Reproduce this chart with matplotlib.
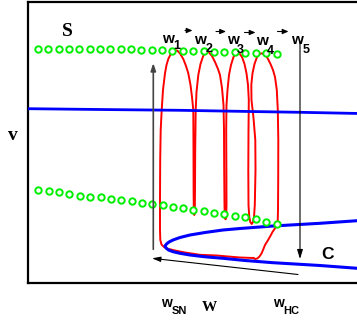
import matplotlib
matplotlib.use('Agg')
import matplotlib.pyplot as plt

# --- data (w to the right, v measured downward as drawn) ---
# upper and lower dotted branches S
s_up_w = [38, 48.3, 58.7, 69, 79.3, 89.7, 100, 110.3, 120.7, 131, 141.3, 151.7,
          162, 172.3, 183, 193, 204, 214, 224, 235, 245, 256, 266, 277]
s_up_v = [49.3, 49.3, 49.3, 49.3, 49.3, 49.3, 49.3, 49.3, 49.3, 49.3, 49.5, 50,
          50, 50.7, 50.7, 51, 51.3, 51.7, 52, 52.3, 52.7, 53, 53, 53.7]
s_lo_w = [38, 48.7, 59, 69, 80, 90, 100.5, 111, 121, 131.5, 142, 152,
          163, 173, 183, 193.3, 204, 214, 224.3, 235, 245.3, 256, 266.3, 276.7]
s_lo_v = [189.7, 191, 192.3, 194.3, 195.8, 196.6, 197.3, 198.7, 200, 201.3, 202.7, 204.3,
          205.3, 206.7, 208.3, 210, 211.3, 212.7, 214.3, 215.7, 217.3, 219.3, 221.7, 223.7]

# middle branch (blue, straight)
mid_w = [28, 100, 180, 250, 300, 360]
mid_v = [108.7, 109.5, 110.3, 111.5, 112.3, 113.5]

# C branch (blue parabola)
c_w = [360, 320, 273, 240, 223, 205, 190, 180, 173, 169, 166.5, 165, 166, 168.5,
       173, 180, 190, 205, 223, 245, 273, 320, 360]
c_v = [220.5, 223.3, 226, 228.5, 230, 232.5, 235, 237.5, 240, 242, 244, 246, 248, 250,
       251.7, 253.3, 255, 256.8, 258.3, 260.5, 262.7, 265.5, 268.5]

# bursting trajectory (red)
traj_w = [253.3, 240, 228, 216.7, 200, 185, 175, 168, 164, 161.5, 160.3, 160,
          160, 160.2, 160.7, 161.7, 163, 165, 166.5, 168.3, 171, 173, 175, 177.5, 180,
          183.3, 186, 188.3, 190.5, 192, 193.3, 193.5, 193.6, 193.8, 194.3, 194.8, 195,
          195.2, 195.7, 196.5, 198.3, 200.5, 203, 205, 206.7, 209, 212, 215, 218, 220,
          222, 223.5, 224, 224.2, 224.5, 224.8, 225.5, 226.2, 226.5, 226.4, 226.2, 226.5,
          227.5, 229, 231, 233.5, 235.5, 237.3, 239.5, 242, 244.5, 246.5, 248, 248.8,
          248.5, 248.3, 248.5, 249.3, 250.3, 251.7, 253, 254, 254.8, 255.5, 255.3, 253.5,
          251.5, 251.3, 252.5, 254.5, 257, 259.5, 261.7, 264.5, 267.5, 270.5, 273, 275,
          276.8, 277.8, 278.3, 278.2, 278, 277.7, 276.5, 275, 272.5, 270, 267.5, 265,
          263, 261.5, 259.5, 257.3, 255, 253.3]
traj_v = [258, 257.5, 256.5, 255.5, 254.8, 252.5, 250.5, 248.8, 247, 244.5, 240, 230,
          200, 160, 130, 110, 90, 73.3, 65, 59, 53.5, 50.8, 50, 50.8, 53.5,
          59, 66, 73.3, 85, 97, 110, 150, 190, 211, 215, 211, 190,
          150, 110, 92, 75, 64, 56.5, 53, 51.7, 52.5, 56, 62, 69, 75,
          88, 105, 130, 170, 205, 216, 219.3, 216, 205, 170, 130, 105,
          90, 75, 65, 57, 53.5, 52.7, 53.5, 57, 64, 73.3, 85, 100,
          130, 170, 205, 217, 222, 224, 222, 217, 205, 170, 140, 118,
          100, 85, 73.3, 64, 57, 54, 53.3, 54.5, 58, 64, 70, 77,
          90, 110, 140, 180, 210, 222, 226, 228.3, 232, 236.7, 241, 245,
          250, 253.5, 256.5, 258.5, 259, 258]

fig = plt.figure(figsize=(3.57, 3.24), dpi=100)
ax = fig.add_axes([28 / 357, 41 / 324, 329 / 357, 281 / 324])
ax.set_xlim(28, 357)
ax.set_ylim(283, 2)
ax.set_xticks([])
ax.set_yticks([])
ax.spines['right'].set_visible(False)
for s in ['left', 'top', 'bottom']:
    ax.spines[s].set_linewidth(1.6)

ax.plot(traj_w, traj_v, color='red', lw=1.4, zorder=2)
ax.plot(mid_w, mid_v, color='#0000ff', lw=2.0, zorder=3, clip_on=True)
ax.plot(c_w, c_v, color='#0000ff', lw=2.2, zorder=3)
mk = dict(ls='none', marker='o', ms=4.6, mfc='white', mec='#00ee00', mew=1.4, zorder=4)
ax.plot(s_up_w, s_up_v, **mk)
ax.plot(s_lo_w, s_lo_v, **mk)

# arrows
def arrow(x0, y0, x1, y1, col='black', lw=0.8, hl=0.5, hw=0.18):
    ax.annotate('', xy=(x1, y1), xytext=(x0, y0),
                arrowprops=dict(arrowstyle='-|>,head_length=%g,head_width=%g' % (hl, hw),
                                color=col, lw=lw, shrinkA=0, shrinkB=0), zorder=5)

arrow(153.3, 249.3, 153.3, 63, col='#444444', lw=1.2, hl=0.45, hw=0.15)
arrow(300, 41, 300, 259, hl=0.55, hw=0.17)
arrow(298, 274.5, 152, 258.3, hl=0.5, hw=0.15)
for x0, x1, y in [(185, 192.5, 30.5), (216, 226, 31.5), (244.5, 255.5, 32.5), (277.5, 288.5, 31.5)]:
    arrow(x0, y, x1, y, hl=0.35, hw=0.15)

# labels
sans = dict(family=['Liberation Sans', 'DejaVu Sans'], weight='bold', ha='center', va='baseline')
serif = dict(family=['Liberation Serif', 'DejaVu Serif'], weight='bold', ha='center', va='baseline')
top_lbl = [(168.3, 42.7, '1', 176.7, 49.3), (200, 43.7, '2', 209, 52),
           (233.3, 43.9, '3', 240.5, 53.3), (261.7, 45.2, '4', 270.3, 53.8),
           (296.7, 43.9, '5', 306, 52.8)]
for xw, yw, sub, xs, ys in top_lbl:
    ax.text(xw, yw, 'w', fontsize=11, zorder=6, **sans)
    ax.text(xs, ys, sub, fontsize=9, zorder=6, **sans)

ax.text(67.8, 36, 'S', fontsize=14, **serif)
ax.text(12.8, 140, 'v', fontsize=14, clip_on=False, **serif)
ax.text(327.8, 259, 'C', fontsize=12.5, **sans)
ax.text(166.3, 306.7, 'w', fontsize=10, **sans)
ax.text(179.7, 314.3, 'SN', fontsize=8, **sans)
ax.text(209.7, 310.7, 'W', fontsize=11, **serif)
ax.text(278, 306.7, 'w', fontsize=10, **sans)
ax.text(291.7, 314.3, 'HC', fontsize=8, **sans)

fig.savefig('out.png', dpi=100)
